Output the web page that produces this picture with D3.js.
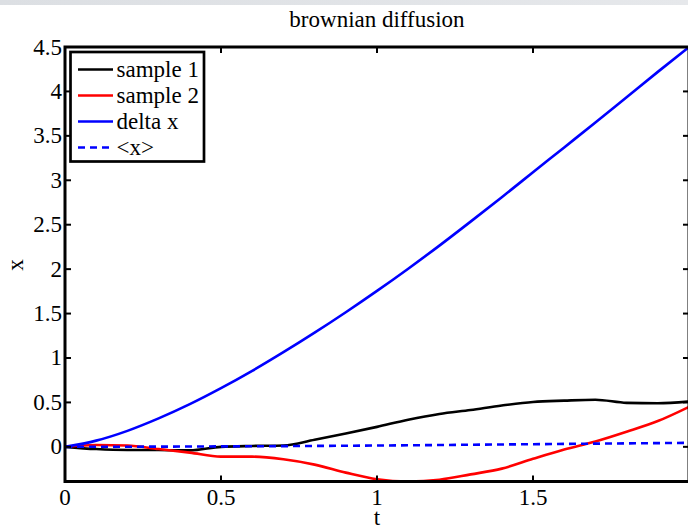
<!DOCTYPE html>
<html lang="en">
<head>
    <meta charset="UTF-8">
    <title>brownian diffusion</title>
    <script src="https://d3js.org/d3.v7.min.js"></script>
    <style>
        body { margin: 0; background: #fff; }
        svg text { font-family: "Liberation Serif", "Times New Roman", serif; fill: #000; }
    </style>
</head>
<body>
    <div id="chart"></div>

    <script>
        // values
        const t = [0, 0.1, 0.2, 0.3, 0.4, 0.5, 0.6, 0.7, 0.8, 0.9, 1.0,
                   1.1, 1.2, 1.3, 1.4, 1.5, 1.6, 1.7, 1.8, 1.9, 2.0];
        const sample1 = [0, -0.025, -0.035, -0.035, -0.04, 0.0, 0.01, 0.015, 0.08, 0.15, 0.225,
                         0.305, 0.37, 0.415, 0.465, 0.505, 0.52, 0.53, 0.495, 0.49, 0.51];
        const sample2 = [0, 0.02, 0.015, -0.025, -0.065, -0.11, -0.11, -0.14, -0.2, -0.29, -0.365,
                         -0.39, -0.37, -0.31, -0.245, -0.135, -0.03, 0.06, 0.17, 0.29, 0.45];
        const deltaX = [0, 0.07, 0.18, 0.32, 0.48, 0.66, 0.855, 1.065, 1.285, 1.515, 1.755,
                        2.005, 2.265, 2.535, 2.81, 3.09, 3.37, 3.65, 3.935, 4.22, 4.5];
        const tMean = [0, 0.5, 1, 1.5, 2];
        const meanX = [0, 0.005, 0.015, 0.03, 0.045];

        const xTicks = [0, 0.5, 1, 1.5, 2];
        const yTicks = [0, 0.5, 1, 1.5, 2, 2.5, 3, 3.5, 4, 4.5];
        const legendLabels = ["sample 1", "sample 2", "delta x", "<x>"];

        const W = 688, H = 530;
        const plotL = 65, plotR = 689, plotT = 47, plotB = 481.5;
        const fontSize = 23;

        const svg = d3.select("#chart").append("svg")
            .attr("width", W)
            .attr("height", H);

        svg.append("rect").attr("width", W).attr("height", H).attr("fill", "#fff");

        // thin grey strip at the very top of the screenshot
        const grad = svg.append("defs").append("linearGradient").attr("id", "strip");
        grad.append("stop").attr("offset", "0%").attr("stop-color", "#dcdfe3");
        grad.append("stop").attr("offset", "100%").attr("stop-color", "#e6e8eb");
        svg.append("rect").attr("width", W).attr("height", 5).attr("fill", "url(#strip)");

        const allY = sample1.concat(sample2, deltaX, meanX);
        const x = d3.scaleLinear().domain([0, 2]).range([plotL, plotR]);
        const y = d3.scaleLinear().domain(d3.extent(allY)).range([plotB, plotT]);

        const series = [
            { xs: t, ys: sample1, color: "#000", dash: null },
            { xs: t, ys: sample2, color: "#ff0000", dash: null },
            { xs: t, ys: deltaX, color: "#0000ff", dash: null },
            { xs: tMean, ys: meanX, color: "#0000ff", dash: "7,5" }
        ];

        const line = d3.line()
            .x(d => x(d[0]))
            .y(d => y(d[1]))
            .curve(d3.curveMonotoneX);

        series.forEach(s => {
            svg.append("path")
                .datum(s.xs.map((v, i) => [v, s.ys[i]]))
                .attr("d", line)
                .attr("fill", "none")
                .attr("stroke", s.color)
                .attr("stroke-width", 2.6)
                .attr("stroke-dasharray", s.dash);
        });

        // axes box with ticks on all four sides (matlab style)
        const g = svg.append("g");
        const tickLen = 6;
        g.append("rect")
            .attr("x", plotL).attr("y", plotT)
            .attr("width", plotR - plotL).attr("height", plotB - plotT)
            .attr("fill", "none").attr("stroke", "#000").attr("stroke-width", 3);

        xTicks.forEach(v => {
            g.append("line").attr("x1", x(v)).attr("x2", x(v))
                .attr("y1", plotB).attr("y2", plotB - tickLen)
                .attr("stroke", "#000").attr("stroke-width", 2);
            g.append("line").attr("x1", x(v)).attr("x2", x(v))
                .attr("y1", plotT).attr("y2", plotT + tickLen)
                .attr("stroke", "#000").attr("stroke-width", 2);
            if (v < 2) {
                g.append("text")
                    .attr("x", x(v)).attr("y", 505)
                    .attr("text-anchor", "middle")
                    .attr("font-size", fontSize)
                    .text(String(v));
            }
        });

        yTicks.forEach(v => {
            g.append("line").attr("x1", plotL).attr("x2", plotL + tickLen)
                .attr("y1", y(v)).attr("y2", y(v))
                .attr("stroke", "#000").attr("stroke-width", 2);
            g.append("line").attr("x1", plotR).attr("x2", plotR - tickLen)
                .attr("y1", y(v)).attr("y2", y(v))
                .attr("stroke", "#000").attr("stroke-width", 2);
            g.append("text")
                .attr("x", plotL - 3).attr("y", y(v) + 7.5)
                .attr("text-anchor", "end")
                .attr("font-size", fontSize)
                .text(String(v));
        });

        // title and axis labels
        svg.append("text")
            .attr("x", (plotL + plotR) / 2).attr("y", 27)
            .attr("text-anchor", "middle")
            .attr("font-size", fontSize)
            .text("brownian diffusion");

        svg.append("text")
            .attr("x", (plotL + plotR) / 2).attr("y", 525)
            .attr("text-anchor", "middle")
            .attr("font-size", fontSize)
            .text("t");

        svg.append("text")
            .attr("transform", "translate(23,265) rotate(-90)")
            .attr("text-anchor", "middle")
            .attr("font-size", fontSize)
            .text("x");

        // legend
        const leg = svg.append("g");
        leg.append("rect")
            .attr("x", 70.5).attr("y", 52)
            .attr("width", 133.5).attr("height", 109.5)
            .attr("fill", "#fff").attr("stroke", "#000").attr("stroke-width", 2.7);

        const rowY = [69.5, 95.5, 121.5, 147.5];
        legendLabels.forEach((lab, i) => {
            const s = series[i];
            leg.append("line")
                .attr("x1", 78).attr("x2", 113)
                .attr("y1", rowY[i]).attr("y2", rowY[i])
                .attr("stroke", s.color).attr("stroke-width", 2.6)
                .attr("stroke-dasharray", s.dash);
            leg.append("text")
                .attr("x", 116.5).attr("y", rowY[i] + 7)
                .attr("font-size", fontSize)
                .text(lab);
        });
    </script>
</body>
</html>
